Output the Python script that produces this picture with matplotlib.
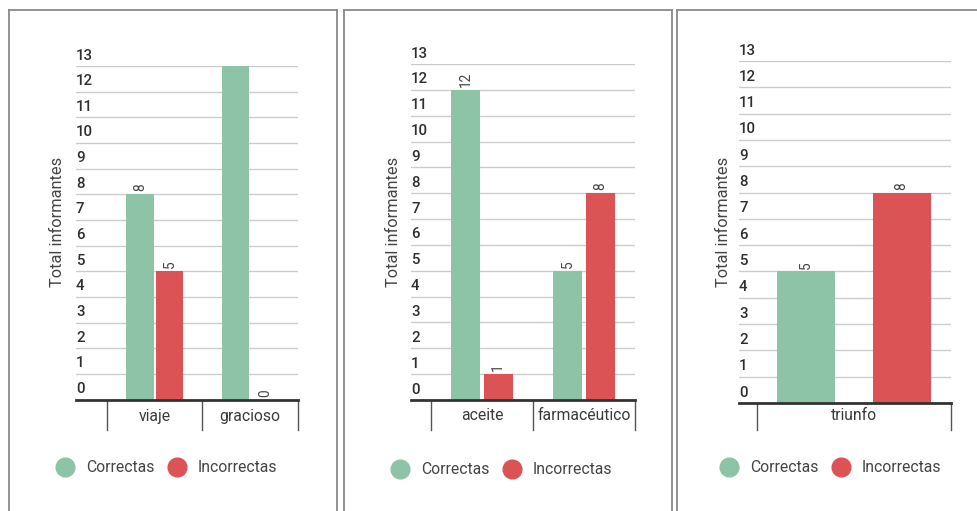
import matplotlib
matplotlib.use("Agg")
import matplotlib.pyplot as plt
from matplotlib.lines import Line2D
from matplotlib.transforms import blended_transform_factory, offset_copy

plt.rcParams['font.family'] = ['Roboto', 'DejaVu Sans']

# ---- data ----
series_names = ["Correctas", "Incorrectas"]
series_colors = ["#8dc3a7", "#dc5356"]
y_ticks = list(range(0, 14))
y_label = "Total informantes"

panel1_categories = ["viaje", "gracioso"]
panel1_correctas = [8, 13]
panel1_incorrectas = [5, 0]
panel1_annotate = [[True, False], [True, True]]

panel2_categories = ["aceite", "farmacéutico"]
panel2_correctas = [12, 5]
panel2_incorrectas = [1, 8]
panel2_annotate = [[True, True], [True, True]]

panel3_categories = ["triunfo"]
panel3_correctas = [5]
panel3_incorrectas = [8]
panel3_annotate = [[True], [True]]

# ---- layout (pixels, origin top-left) ----
W, H = 977, 511
DPI = 100

panels = [
    dict(cats=panel1_categories, vals=[panel1_correctas, panel1_incorrectas],
         ann=panel1_annotate,
         frame=(9, 10, 337), axes=(76, 66, 298, 399.5), gutter=31,
         bar_w=0.29, bar_off=0.155, ylab_x=58,
         legend=(55.5, 468)),
    dict(cats=panel2_categories, vals=[panel2_correctas, panel2_incorrectas],
         ann=panel2_annotate,
         frame=(344, 10, 672), axes=(411, 64, 635, 400), gutter=20,
         bar_w=0.29, bar_off=0.16, ylab_x=393,
         legend=(390.5, 470)),
    dict(cats=panel3_categories, vals=[panel3_correctas, panel3_incorrectas],
         ann=panel3_annotate,
         frame=(677, 10, None), axes=(739, 61, 951, 403), gutter=18,
         bar_w=0.30, bar_off=0.246, ylab_x=723,
         legend=(719.5, 468)),
]

fig = plt.figure(figsize=(W / DPI, H / DPI), dpi=DPI)
fig.patch.set_facecolor("white")


def fx(px):
    return px / W


def fy(py):
    return 1 - py / H


frame_color = "#8a8a8a"
for p in panels:
    x0, y0, x1 = p["frame"]
    # panel border: left, top and right edges (bottom runs off the canvas)
    fig.add_artist(Line2D([fx(x0), fx(x0)], [fy(y0), 0], color=frame_color, lw=1.3))
    right = x1 if x1 is not None else W + 5
    fig.add_artist(Line2D([fx(x0), fx(right)], [fy(y0), fy(y0)], color=frame_color, lw=1.3))
    if x1 is not None:
        fig.add_artist(Line2D([fx(x1), fx(x1)], [fy(y0), 0], color=frame_color, lw=1.3))

    ax_l, ax_t, ax_r, ax_b = p["axes"]
    ax = fig.add_axes([fx(ax_l), fy(ax_b), (ax_r - ax_l) / W, (ax_b - ax_t) / H])
    ax.set_facecolor("none")
    n = len(p["cats"])
    band_px = (ax_r - ax_l - p["gutter"]) / n
    ax.set_xlim(-0.5 - p["gutter"] / band_px, n - 0.5)
    ax.set_ylim(0, 13)

    for s in ax.spines.values():
        s.set_visible(False)
    ax.set_yticks(y_ticks)
    ax.set_yticklabels([])
    ax.tick_params(axis="both", length=0)
    ax.set_xticks([])
    ax.grid(axis="y", color="#cccccc", lw=1.0)
    ax.set_axisbelow(True)

    # y tick labels sitting above each gridline
    tr = blended_transform_factory(ax.transAxes, ax.transData)
    tr = offset_copy(tr, fig=fig, x=0, y=2.5, units="points")
    for v in y_ticks:
        ax.text(0, v, str(v), transform=tr, ha="left", va="bottom",
                fontsize=10.8, color="#2e2e2e", fontweight="medium", clip_on=False)

    xs = list(range(n))
    for si, (vals, color) in enumerate(zip(p["vals"], series_colors)):
        off = -p["bar_off"] if si == 0 else p["bar_off"]
        pos = [x + off for x in xs]
        ax.bar(pos, vals, width=p["bar_w"], color=color, zorder=2)
        for x, v, show in zip(pos, vals, p["ann"][si]):
            if show:
                ax.annotate(str(v), (x, v), xytext=(0, 2), textcoords="offset points",
                            rotation=90, ha="center", va="bottom",
                            fontsize=9.8, color="#444444")

    # baseline
    ax.axhline(0, color="#333333", lw=2, zorder=3, clip_on=False)

    # category separators and labels below the baseline
    sep_tr = blended_transform_factory(ax.transData, fig.transFigure)
    for b in [x - 0.5 for x in xs] + [n - 0.5]:
        ax.add_line(Line2D([b, b], [fy(ax_b), fy(430)], transform=sep_tr,
                           color="#555555", lw=1.0, clip_on=False))
    for x, c in zip(xs, p["cats"]):
        ax.text(x, fy(416), c, transform=sep_tr, ha="center", va="center",
                fontsize=11.3, color="#3a3a3a")

    fig.text(fx(p["ylab_x"]), fy(222), y_label, rotation=90, ha="center", va="center",
             fontsize=11.8, color="#444444")

    handles = [Line2D([], [], marker="o", ls="none", markersize=13.5,
                      markerfacecolor=c, markeredgecolor=c) for c in series_colors]
    lx, ly = p["legend"]
    fig.legend(handles, series_names, loc="center left",
               bbox_to_anchor=(fx(lx), fy(ly)), ncol=2, frameon=False,
               fontsize=11.3, labelcolor="#444444", handlelength=1.25,
               handletextpad=0.7, columnspacing=0.8, borderpad=0, borderaxespad=0)

fig.savefig("out.png", dpi=DPI, facecolor="white")
